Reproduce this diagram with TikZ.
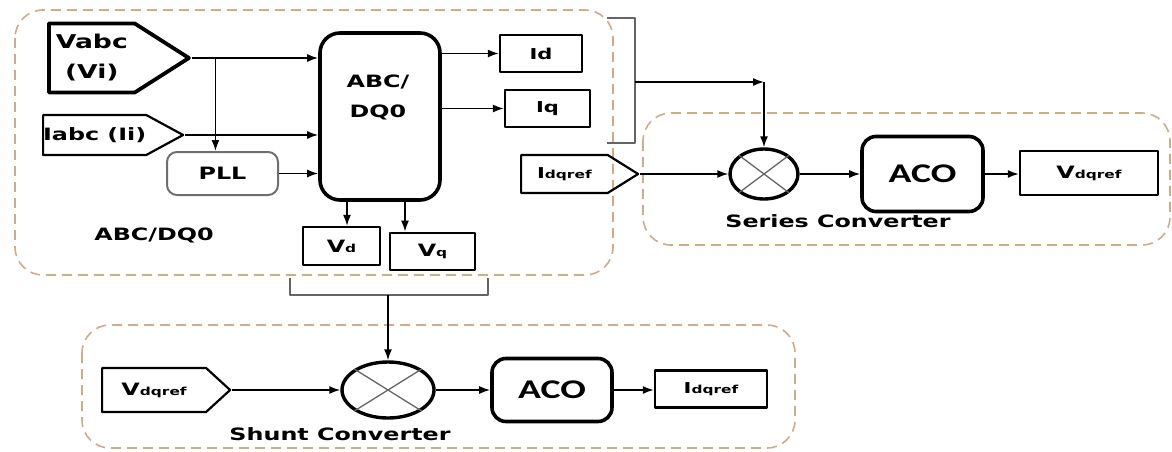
\documentclass[tikz,border=0pt]{standalone}
\usepackage{fontspec}
\setmainfont{DejaVu Sans}[FakeStretch=1.4]
\newfontfamily\acofont{Carlito}[FakeStretch=1.4]
\usetikzlibrary{arrows.meta,shapes.geometric,shapes.symbols,calc}

\definecolor{grptan}{RGB}{205,172,140}
\definecolor{brkgray}{RGB}{100,100,100}
\definecolor{pllgray}{RGB}{110,110,110}

\newcommand\lblfont{\fontsize{17}{19}\selectfont\bfseries}
\newcommand\bigfont{\fontsize{19}{21}\selectfont\bfseries}
\newcommand\idfont{\fontsize{15}{17}\selectfont\bfseries}
\newcommand\smlfont{\fontsize{11}{13}\selectfont\bfseries}
\newcommand\acolbl{\acofont\bfseries\fontsize{27}{30}\selectfont}

\begin{document}
\begin{tikzpicture}[x=1pt,y=-1pt,line join=round,
    box/.style={draw,line width=2.3pt,inner sep=0pt,font=\lblfont},
    rbox/.style={draw,rounded corners=14pt,line width=3.6pt,inner sep=0pt,font=\acolbl},
    sig/.style={draw,shape=signal,signal to=east,anchor=west,inner sep=0pt,line width=2.2pt,font=\lblfont},
    mix/.style={draw,ellipse,line width=3.4pt,inner sep=0pt},
    grp/.style={draw=grptan,line width=1.6pt,dash pattern=on 10pt off 6pt,rounded corners=28pt},
    arr/.style={-{Latex[length=11pt,width=8pt]},line width=1.6pt},
    brk/.style={draw=brkgray,line width=1.4pt},
    txt/.style={inner sep=0pt,font=\lblfont}]
  \useasboundingbox (0,0) rectangle (1172,452);

  % dashed groups
  \draw[grp] (15,10) rectangle (613,275);
  \draw[grp] (643,113) rectangle (1170,245);
  \draw[grp] (82,325) rectangle (795,448);

  % ABC/DQ0 part
  \node[sig,line width=3.8pt,signal pointer angle=65,minimum width=140,minimum height=69,align=center,font=\bigfont] (vabc) at (47,58) {Vabc\\[9pt](Vi)};
  \node[sig,signal pointer angle=57,minimum width=140,minimum height=40] (iabc) at (42,135) {Iabc (Ii)};
  \node[draw=pllgray,rounded corners=10pt,line width=2pt,minimum width=111,minimum height=43,font=\lblfont] (pll) at (222.5,173.5) {PLL};
  \node[rbox,rounded corners=20pt,minimum width=120,minimum height=167] (abc) at (380,116.5) {};
  \node[txt,align=center] (abclbl) at (378,97) {ABC/\\[11pt]DQ0};
  \node[box,minimum width=82,minimum height=37,font=\idfont] (id) at (541,53.5) {Id};
  \node[box,minimum width=85,minimum height=37,font=\idfont] (iq) at (547.5,108.5) {Iq};
  \node[box,minimum width=77,minimum height=38] (vd) at (341.5,246) {V{\smlfont d}};
  \node[box,line width=2.8pt,minimum width=85,minimum height=37] (vq) at (432.5,251.5) {V{\smlfont q}};
  \node[sig,signal pointer angle=64,minimum width=117,minimum height=38,font=\idfont] (idqin) at (520,174) {I{\smlfont dqref}};
  \node[txt] (grp1lbl) at (154,235) {ABC/DQ0};

  \coordinate (tap) at ($(vabc.east)+(23,0)$);
  \coordinate (vdx) at (347,0);
  \coordinate (vqx) at (405,0);
  \draw[arr] (vabc.east) -- (vabc.east -| abc.west);
  \draw[arr] (iabc.east) -- (iabc.east -| abc.west);
  \draw[arr] (pll.east) -- (pll.east -| abc.west);
  \draw[arr] (tap) -- (tap |- pll.north);
  \draw[arr] (abc.east |- id.west) -- (id.west);
  \draw[arr] (abc.east |- iq.west) -- (iq.west);
  \draw[arr] (abc.south -| vdx) -- (vd.north -| vdx);
  \draw[arr] (abc.south -| vqx) -- (vq.north -| vqx);

  % series converter
  \node[mix,minimum width=68,minimum height=50] (sc) at (764,174) {};
  \node[rbox,minimum width=121,minimum height=75] (saco) at (922.5,174) {ACO};
  \node[box,minimum width=138,minimum height=44] (svdq) at (1089,173) {V{\smlfont dqref}};
  \node[txt] (sclbl) at (838,221) {Series Converter};
  \draw[brkgray,line width=1.3pt] (sc.north west) -- (sc.south east) (sc.north east) -- (sc.south west);

  \coordinate (bt) at (607,18);
  \coordinate (bb) at (607,143);
  \coordinate (bm) at (635,82);
  \draw[brk] (bt) -- (bt -| bm) -- (bb -| bm) -- (bb);
  \draw[arr] (bm) -- (bm -| sc.north);
  \draw[arr] (bm -| sc.north) -- (sc.north);
  \draw[arr] (idqin.east) -- (sc.west);
  \draw[arr] (sc.east) -- (saco.west);
  \draw[arr] (saco.east) -- (svdq.west |- saco.east);

  % shunt converter
  \node[sig,signal pointer angle=85,minimum width=128,minimum height=44] (shvdq) at (101,390) {V{\smlfont dqref}};
  \node[mix,minimum width=92,minimum height=56] (shc) at (388,390) {};
  \node[rbox,minimum width=120,minimum height=63] (shaco) at (552,390) {ACO};
  \node[box,minimum width=112,minimum height=37,font=\idfont] (shidq) at (711,389) {I{\smlfont dqref}};
  \node[txt] (shlbl) at (340,434) {Shunt Converter};
  \draw[brkgray,line width=1.3pt] (shc.north west) -- (shc.south east) (shc.north east) -- (shc.south west);

  \coordinate (dl) at (290,278);
  \coordinate (dr) at (488,278);
  \coordinate (dm) at (388,295);
  \draw[brk] (dl) -- (dl |- dm) -- (dr |- dm) -- (dr);
  \draw[arr] (dm) -- (shc.north);
  \draw[arr] (shvdq.east) -- (shc.west);
  \draw[arr] (shc.east) -- (shaco.west);
  \draw[arr] (shaco.east) -- (shidq.west |- shaco.east);
\end{tikzpicture}
\end{document}
